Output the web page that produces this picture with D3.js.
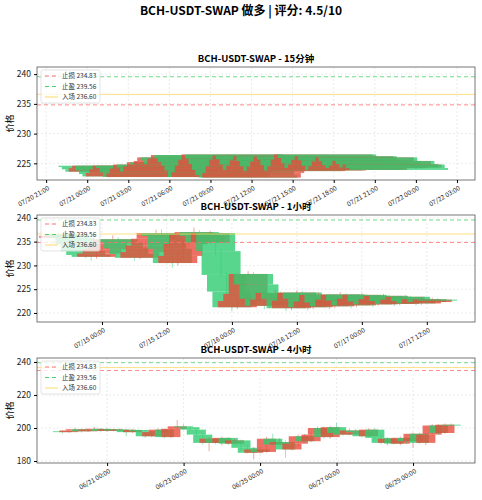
<!DOCTYPE html><html><head><meta charset="utf-8">
<script src="https://cdn.jsdelivr.net/npm/d3@7"></script>
<style>body{margin:0;background:#fff}text{font-family:"Noto Sans CJK SC","DejaVu Sans",sans-serif}</style></head><body>
<svg id="c" width="482" height="500"></svg>
<script>
const title="BCH-USDT-SWAP 做多 | 评分: 4.5/10";
const levels=[{name:"止损",v:234.83,c:"#ff7070",dash:"4,3"},{name:"止盈",v:239.56,c:"#4cd46a",dash:"4,3"},{name:"入场",v:236.60,c:"#ffd966",dash:null}];
// 15m
const start15="2025-07-21T01:30:00Z", step15=15;
const close15=[224.4,224.0,223.6,224.2,224.6,223.8,223.2,
222.8,223.4,224.0,224.6,224.2,223.5,222.7,223.3,224.1,224.8,224.3,223.6,
224.5,225.2,224.8,225.4,226.0,225.5,224.9,225.8,226.4,225.9,225.2,224.6,
223.8,222.7,223.5,224.6,225.6,226.5,225.8,224.9,223.9,223.0,222.6,223.4,
224.5,225.6,226.3,225.7,224.8,223.9,224.6,225.5,226.2,225.4,224.5,223.7,
224.4,225.3,226.1,225.6,224.7,223.8,224.5,225.6,226.5,225.9,225.0,224.2,
224.8,225.6,226.2,225.5,224.6,223.9,224.5,225.3,226.0,225.4,224.7,224.2,
224.6,225.4,224.9,224.3,224.8,224.2,223.9];
const open15First=224.6;
// 1h
const start1h="2025-07-14T16:00:00Z", step1h=60;
const close1h=[236.2,236.6,235.8,234.5,233.0,232.2,231.8,
232.5,233.4,234.6,235.5,234.8,233.6,232.4,231.6,232.8,234.2,235.6,
236.8,236.2,233.5,230.5,232.0,234.5,
236.4,237.0,236.2,234.8,236.8,
233.0,228.0,224.5,221.2,222.5,224.0,228.2,
226.0,223.0,221.5,222.8,224.2,223.0,221.0,
222.6,224.3,223.0,221.2,222.4,223.8,222.2,221.4,
222.8,223.9,222.6,221.6,223.0,223.8,222.4,221.8,222.9,223.6,222.5,
221.9,222.8,223.4,222.5,222.0,222.9,222.3,222.8,222.6];
const open1hFirst=235.8;
const high1h=[236.8,237.2,236.9,236.0,234.8,233.4,232.6,233.0,234.0,235.2,236.3,235.9,235.0,233.5,232.6,233.4,234.8,236.4,237.5,237.6,236.5,234.0,232.8,235.3,236.9,238.0,237.4,236.4,237.3,237.0,233.4,228.6,225.0,223.2,224.6,228.8,228.6,226.4,223.4,223.3,224.8,224.5,223.4,223.0,224.8,224.6,223.5,222.9,224.3,224.0,222.6,223.3,224.4,224.1,222.9,223.4,224.2,223.9,222.8,223.4,224.0,223.8,222.8,223.2,223.8,223.6,222.8,223.3,223.0,223.2,223.1];
const low1h=[235.5,235.8,235.2,234.0,232.5,231.5,231.0,231.4,232.2,234.0,235.0,234.3,233.0,231.9,231.0,231.3,232.4,233.8,235.2,235.6,233.0,229.5,230.0,231.5,234.0,236.0,235.6,234.2,234.5,232.2,227.5,223.8,220.4,220.8,222.0,223.5,225.4,222.4,220.8,221.0,222.4,222.5,220.4,220.6,222.2,222.5,220.6,220.8,222.0,221.6,220.8,221.0,222.3,222.1,221.0,221.2,222.6,222.0,221.3,221.5,222.5,222.0,221.4,221.6,222.5,222.1,221.6,221.7,222.0,222.2,222.3];
// 4h
const start4h="2025-06-19T20:00:00Z", step4h=240;
const close4h=[197.5,198.5,199.2,198.0,199.0,199.5,198.2,
199.3,198.5,199.0,197.5,198.8,198.0,
195.0,197.5,199.0,194.5,199.5,201.0,
200.5,199.0,196.0,191.0,193.5,191.0,
194.0,190.5,192.5,188.0,185.0,187.0,
185.5,193.5,190.0,191.5,187.0,190.5,
195.0,192.0,196.0,200.0,194.5,200.5,
197.0,196.0,198.5,197.5,195.0,199.0,
194.0,191.0,193.5,190.5,194.0,192.0,
196.5,191.0,196.0,201.5,197.0,202.0,
201.5];
const open4hFirst=198.0;
const high4h=[198.6,199.4,200.2,199.6,199.8,200.6,199.9,199.9,199.6,199.7,199.3,199.5,199.2,198.6,198.2,199.8,199.6,200.2,204.8,202.4,201.3,200.1,196.8,194.3,193.9,194.8,194.6,193.2,192.9,189.4,188.5,188.4,194.6,196.5,193.8,192.5,191.6,196.0,196.4,197.2,200.8,200.9,201.2,203.2,198.4,199.5,199.6,198.4,199.8,199.8,195.8,194.2,194.4,194.8,194.6,197.3,197.3,196.8,202.4,202.3,202.7,202.8];
const low4h=[196.8,197.1,198.0,197.2,197.6,198.6,197.4,197.7,197.8,197.9,195.0,196.9,197.0,194.0,194.5,197.0,193.8,194.0,199.2,199.2,198.4,195.2,190.0,186.0,190.2,189.5,189.7,190.0,186.5,184.6,181.0,184.6,185.0,189.4,189.6,182.0,186.4,188.6,191.2,191.4,195.4,193.6,193.5,196.4,195.4,195.5,196.8,194.2,194.4,193.0,190.2,189.5,190.0,189.6,190.4,188.0,190.4,189.6,195.3,196.0,196.5,200.8];
const ticks15=["2025-07-20T21:00:00Z","2025-07-21T00:00:00Z","2025-07-21T03:00:00Z","2025-07-21T06:00:00Z","2025-07-21T09:00:00Z","2025-07-21T12:00:00Z","2025-07-21T15:00:00Z","2025-07-21T18:00:00Z","2025-07-21T21:00:00Z","2025-07-22T00:00:00Z","2025-07-22T03:00:00Z"];
const ticks1h=["2025-07-15T00:00:00Z","2025-07-15T12:00:00Z","2025-07-16T00:00:00Z","2025-07-16T12:00:00Z","2025-07-17T00:00:00Z","2025-07-17T12:00:00Z"];
const ticks4h=["2025-06-21T00:00:00Z","2025-06-23T00:00:00Z","2025-06-25T00:00:00Z","2025-06-27T00:00:00Z","2025-06-29T00:00:00Z"];

const svg=d3.select("#c");
svg.append("text").attr("x",241).attr("y",15).attr("text-anchor","middle").attr("font-size",12).attr("font-weight","bold").text(title);
const fmt=d3.utcFormat("%m/%d %H:%M");
function build(closes,open0,highs,lows,start,stepMin){
  const t0=new Date(start).getTime();
  return closes.map((c,i)=>{const o=i?closes[i-1]:open0;return{t:new Date(t0+i*stepMin*60000),o,c,h:highs?highs[i]:Math.max(o,c),l:lows?lows[i]:Math.min(o,c)};});
}
function panel(cfg){
  const {top,bottom,sub,data,xd,yd,yt,xt,halfH}=cfg; const L=37,R=475;
  const x=d3.scaleUtc().domain(xd.map(d=>new Date(d))).range([L,R]);
  const y=d3.scaleLinear().domain(yd).range([bottom,top]);
  const g=svg.append("g");
  g.append("text").attr("x",(L+R)/2).attr("y",top-5).attr("text-anchor","middle").attr("font-size",9.5).attr("font-weight","bold").text(sub);
  const cp="cp"+top;
  g.append("clipPath").attr("id",cp).append("rect").attr("x",L).attr("y",top).attr("width",R-L).attr("height",bottom-top);
  const xtd=xt.map(d=>new Date(d));
  g.append("g").selectAll("line").data(xtd).join("line").attr("x1",d=>x(d)).attr("x2",d=>x(d)).attr("y1",top).attr("y2",bottom).attr("stroke","#ddd").attr("stroke-width",0.6).attr("stroke-dasharray","2,2");
  g.append("g").selectAll("line").data(yt).join("line").attr("x1",L).attr("x2",R).attr("y1",d=>y(d)).attr("y2",d=>y(d)).attr("stroke","#ddd").attr("stroke-width",0.6).attr("stroke-dasharray","2,2");
  const pl=g.append("g").attr("clip-path",`url(#${cp})`);
  const hw=(x(new Date(halfH*3600000))-x(new Date(0)));
  data.forEach(d=>{
    const up=d.c>=d.o, col=up?"#e74c3c":"#2ecc71";
    const hi=Math.max(d.h,d.o,d.c), lo=Math.min(d.l,d.o,d.c);
    pl.append("line").attr("x1",x(d.t)).attr("x2",x(d.t)).attr("y1",y(hi)).attr("y2",y(lo)).attr("stroke",col).attr("stroke-width",0.8).attr("opacity",0.6);
    pl.append("rect").attr("x",x(d.t)-hw).attr("width",2*hw).attr("y",y(Math.max(d.o,d.c))).attr("height",Math.max(0.6,Math.abs(y(d.o)-y(d.c)))).attr("fill",col).attr("opacity",0.8);
  });
  levels.forEach(l=>{pl.append("line").attr("x1",L).attr("x2",R).attr("y1",y(l.v)).attr("y2",y(l.v)).attr("stroke",l.c).attr("stroke-width",1).attr("stroke-dasharray",l.dash).attr("opacity",0.8);});
  g.append("rect").attr("x",L).attr("y",top).attr("width",R-L).attr("height",bottom-top).attr("fill","none").attr("stroke","#555").attr("stroke-width",0.8);
  const ya=g.append("g").attr("transform",`translate(${L},0)`).call(d3.axisLeft(y).tickValues(yt).tickSize(3).tickFormat(d3.format("d")));
  ya.select(".domain").remove(); ya.selectAll("text").attr("font-size",8.5).attr("fill","#222");
  const xa=g.append("g").attr("transform",`translate(0,${bottom})`).call(d3.axisBottom(x).tickValues(xtd).tickSize(3).tickFormat(fmt));
  xa.select(".domain").remove();
  xa.selectAll("text").attr("font-size",6.5).attr("fill","#222").attr("text-anchor","end").attr("transform","rotate(-30)").attr("dx","-0.3em").attr("dy","0.6em");
  g.append("text").attr("transform",`translate(13,${(top+bottom)/2}) rotate(-90)`).attr("text-anchor","middle").attr("font-size",9).text("价格");
  const lg=g.append("g").attr("transform",`translate(${L+4},${top+3})`);
  lg.append("rect").attr("width",59).attr("height",33).attr("fill","#fff").attr("opacity",0.8).attr("stroke","#ddd").attr("rx",2);
  levels.forEach((l,i)=>{const yy=6+i*10.5;
    lg.append("line").attr("x1",4).attr("x2",17).attr("y1",yy).attr("y2",yy).attr("stroke",l.c).attr("stroke-dasharray",l.dash);
    lg.append("text").attr("x",21).attr("y",yy+2.3).attr("font-size",6.5).attr("fill","#333").text(`${l.name} ${l.v.toFixed(2)}`);});
}
panel({top:67,bottom:180,sub:"BCH-USDT-SWAP - 15分钟",data:build(close15,open15First,null,null,start15,step15),halfH:3.6,
  xd:["2025-07-20T20:20:00Z","2025-07-22T04:19:00Z"],yd:[222.2,241.2],yt:[225,230,235,240],xt:ticks15});
panel({top:215,bottom:322,sub:"BCH-USDT-SWAP - 1小时",data:build(close1h,open1hFirst,high1h,low1h,start1h,step1h),halfH:3.6,
  xd:["2025-07-14T12:00:00Z","2025-07-17T20:54:00Z"],yd:[218.1,240.6],yt:[220,225,230,235,240],xt:ticks1h});
panel({top:358,bottom:463,sub:"BCH-USDT-SWAP - 4小时",data:build(close4h,open4hFirst,high4h,low4h,start4h,step4h),halfH:6,
  xd:["2025-06-19T04:00:00Z","2025-06-30T14:53:00Z"],yd:[178.8,242.4],yt:[180,200,220,240],xt:ticks4h});
</script></body></html>
